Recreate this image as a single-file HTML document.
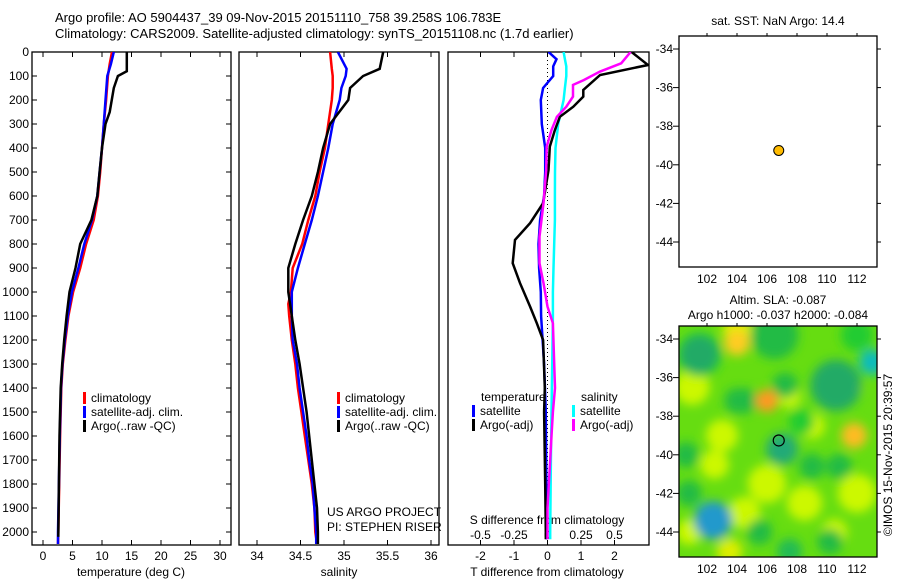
<!DOCTYPE html>
<html><head><meta charset="utf-8"><style>
html,body{margin:0;padding:0;background:#fff;}
svg{display:block;font-family:"Liberation Sans",sans-serif;}
text{fill:#000;}
</style></head><body>
<svg id="chart" width="900" height="580" viewBox="0 0 900 580" xmlns="http://www.w3.org/2000/svg">
<defs>
<clipPath id="c1"><rect x="32" y="52" width="199" height="493"/></clipPath>
<clipPath id="c2"><rect x="239" y="52" width="200" height="493"/></clipPath>
<clipPath id="c3"><rect x="448" y="52" width="201" height="493"/></clipPath>
<clipPath id="cm"><rect x="679" y="326" width="198" height="231"/></clipPath>
<filter id="blur" x="-20%" y="-20%" width="140%" height="140%"><feGaussianBlur stdDeviation="5"/></filter>
</defs>
<text x="55" y="22" font-size="13">Argo profile: AO 5904437_39 09-Nov-2015 20151110_758 39.258S 106.783E</text>
<text x="55" y="38" font-size="13">Climatology: CARS2009. Satellite-adjusted climatology: synTS_20151108.nc (1.7d earlier)</text>
<g id="layer"></g>
</svg>
<script>
// ---------- data ----------
const tDepth = [0,50,100,200,300,400,500,600,700,800,900,1000,1100,1200,1300,1400,1600,1800,2000,2050];
const tClim  = [11.7,11.3,11.0,10.7,10.3,10.0,9.7,9.3,8.6,7.3,6.3,5.1,4.3,3.8,3.35,3.1,2.9,2.75,2.6,2.55];
const tSat   = [12.0,11.5,10.9,10.6,10.3,10.0,9.6,9.2,8.3,7.0,6.0,4.9,4.2,3.7,3.3,3.05,2.85,2.7,2.55,2.55];
const argoTDepth = [0,80,100,150,250,300,400,500,600,700,800,900,1000,1100,1200,1300,1400,1600,1800,2020];
const tArgo  = [14.2,14.2,12.7,12.0,11.3,10.6,10.0,9.6,9.2,8.2,6.3,5.5,4.5,4.0,3.6,3.25,3.0,2.8,2.7,2.6];

const sDepth = [0,70,100,150,200,300,400,500,600,700,800,900,1000,1050,1100,1200,1300,1400,1500,1600,1700,1800,1900,2000,2050];
const sClim  = [34.84,34.86,34.87,34.87,34.86,34.82,34.78,34.72,34.67,34.59,34.52,34.41,34.39,34.36,34.37,34.40,34.44,34.47,34.51,34.55,34.59,34.63,34.66,34.67,34.69];
const sSat   = [34.93,35.03,35.02,34.97,34.95,34.87,34.82,34.76,34.70,34.63,34.55,34.47,34.40,34.40,34.40,34.41,34.46,34.49,34.53,34.57,34.60,34.64,34.66,34.68,34.68];
const sArgo  = [35.45,35.41,35.22,35.07,35.05,34.84,34.76,34.70,34.63,34.53,34.44,34.36,34.36,34.38,34.40,34.44,34.49,34.53,34.57,34.60,34.63,34.66,34.69,34.70,34.70];

const dDepth   = [0,30,60,100,150,200,300,400,500,600,700,800,900,1000,1100,1300,1500,1700,2000,2030];
const dTSat    = [0.03,0.27,0.17,0.17,-0.13,-0.2,-0.17,-0.07,-0.07,-0.1,-0.22,-0.27,-0.25,-0.2,-0.19,-0.1,-0.05,-0.04,-0.03,-0.03];
const dSSat    = [0.12,0.13,0.14,0.14,0.13,0.12,0.08,0.06,0.056,0.055,0.055,0.05,0.045,0.04,0.04,0.035,0.03,0.025,0.02,0.02];
const dArgoDepth = [0,54,96,158,186,228,270,325,394,492,630,713,783,880,963,1061,1130,1200,1400,1500,1800,2000,2030];
const dTArgo   = [2.51,3.0,1.57,1.07,1.07,0.77,0.37,0.22,0.07,0.03,-0.13,-0.52,-0.97,-1.04,-0.82,-0.52,-0.32,-0.13,-0.08,-0.1,-0.07,-0.05,-0.05];
const dSArgoDepth = [0,47,82,117,137,186,228,270,325,394,492,630,769,880,963,1061,1130,1400,1500,1600,1700,1900,2000,2030];
const dSArgo   = [0.62,0.55,0.39,0.27,0.19,0.19,0.14,0.07,0.03,-0.006,-0.01,-0.03,-0.06,-0.06,-0.03,0.0,0.04,0.056,0.04,0.03,0.02,0.0,0.0,0.0];

const depthTicks = [0,100,200,300,400,500,600,700,800,900,1000,1100,1200,1300,1400,1500,1600,1700,1800,1900,2000];
const tTicks = [0,5,10,15,20,25,30];
const sTicks = [34,34.5,35,35.5,36];
const sTickLabels = ["34","34.5","35","35.5","36"];
const dTTicks = [-2,-1,0,1,2];
const dSTicks = [-0.5,-0.25,0,0.25,0.5];
const dSTickLabels = ["-0.5","-0.25","0","0.25","0.5"];
const lonTicks = [102,104,106,108,110,112];
const latTicks = [-34,-36,-38,-40,-42,-44];
const argoLon = [106.783];
const argoLat = [-39.258];

// ---------- scales ----------
const yD = d => 52 + d*0.24;
const xT = t => 43 + t*5.9;
const xS = s => 257 + (s-34)*87;
const xDT = v => 547.5 + v*33.5;
const xDS = v => 547.5 + v*134;
const xLon = l => 707 + (l-102)*15;
const yLat1 = l => 49 + (-34-l)*19.3;
const yLat2 = l => 339 + (-34-l)*19.3;

const NS = "http://www.w3.org/2000/svg";
const layer = document.getElementById('layer');
function mk(tag, attrs, parent){
  const e = document.createElementNS(NS, tag);
  for (const k in attrs) e.setAttribute(k, attrs[k]);
  (parent||layer).appendChild(e);
  return e;
}
function txt(x,y,s,anchor,size){
  const t = mk('text',{x:x,y:y,'font-size':size||12,'text-anchor':anchor||'start'});
  t.textContent = s;
  return t;
}
function line(xs, ys, color, clip, w){
  const pts = xs.map((x,i)=>x.toFixed(1)+','+ys[i].toFixed(1)).join(' ');
  return mk('polyline',{points:pts,fill:'none',stroke:color,'stroke-width':w||2.5,'clip-path':'url(#'+clip+')','stroke-linejoin':'miter'});
}

// ---------- panel frames ----------
const panels = [[32,231,'temperature-panel'],[239,439,'salinity-panel'],[448,649,'difference-panel']];
panels.forEach(p=>{
  const r = mk('rect',{x:p[0],y:52,width:p[1]-p[0],height:493,fill:'none',stroke:'#000','stroke-width':1.3});
  
  
});

depthTicks.forEach(d=>{
  const y = yD(d);
  mk('line',{x1:32,x2:37,y1:y,y2:y,stroke:'#000'});
  mk('line',{x1:226,x2:231,y1:y,y2:y,stroke:'#000'});
  const t = txt(29,y+4,String(d),'end',12);
  
  
});

tTicks.forEach(v=>{
  const x = xT(v);
  mk('line',{x1:x,x2:x,y1:545,y2:540,stroke:'#000'});
  mk('line',{x1:x,x2:x,y1:52,y2:57,stroke:'#000'});
  const t = txt(x,560,String(v),'middle',12);
  
  
});
let at = txt(131,576,'temperature (deg C)','middle',12);



sTicks.forEach((v,i)=>{
  const x = xS(v);
  mk('line',{x1:x,x2:x,y1:545,y2:540,stroke:'#000'});
  mk('line',{x1:x,x2:x,y1:52,y2:57,stroke:'#000'});
  const t = txt(x,560,sTickLabels[i],'middle',12);
  
  
});
at = txt(339,576,'salinity','middle',12);



dTTicks.forEach(v=>{
  const x = xDT(v);
  mk('line',{x1:x,x2:x,y1:545,y2:540,stroke:'#000'});
  const t = txt(x,560,String(v),'middle',12);
  
  
});
dSTicks.forEach((v,i)=>{
  const x = xDS(v);
  mk('line',{x1:x,x2:x,y1:52,y2:57,stroke:'#000'});
  const t = txt(x,539,dSTickLabels[i],'middle',12);
  
  
});
at = txt(547,576,'T difference from climatology','middle',12);


at = txt(547,524,'S difference from climatology','middle',12);


const zl = mk('line',{x1:xDT(0),x2:xDT(0),y1:52,y2:545,stroke:'#000','stroke-dasharray':'1,3'});



// ---------- series ----------
let s;
s = line(tClim.map(xT), tDepth.map(yD), '#ff0000','c1');


s = line(tSat.map(xT), tDepth.map(yD), '#0000ff','c1');


s = line(tArgo.map(xT), argoTDepth.map(yD), '#000000','c1');



s = line(sClim.map(xS), sDepth.map(yD), '#ff0000','c2');


s = line(sSat.map(xS), sDepth.map(yD), '#0000ff','c2');


s = line(sArgo.map(xS), sDepth.map(yD), '#000000','c2');



s = line(dSSat.map(xDS), dDepth.map(yD), '#00ffff','c3');


s = line(dTSat.map(xDT), dDepth.map(yD), '#0000ff','c3');


s = line(dTArgo.map(xDT), dArgoDepth.map(yD), '#000000','c3');


s = line(dSArgo.map(xDS), dSArgoDepth.map(yD), '#ff00ff','c3');



// ---------- legends ----------
function legend(x,y,color,label,name){
  const g = mk('g',{});
  
  
  mk('rect',{x:x,y:y-10,width:3,height:12,fill:color},g);
  const t = mk('text',{x:x+8,y:y,'font-size':12},g);
  t.textContent = label;
}
legend(83,402,'#ff0000','climatology','legend-climatology');
legend(83,416,'#0000ff','satellite-adj. clim.','legend-satellite-adj');
legend(83,430,'#000000','Argo(..raw -QC)','legend-argo');
legend(337,402,'#ff0000','climatology','legend-climatology-salinity');
legend(337,416,'#0000ff','satellite-adj. clim.','legend-satellite-adj-salinity');
legend(337,430,'#000000','Argo(..raw -QC)','legend-argo-salinity');
at = txt(481,401,'temperature','start',12);


at = txt(581,401,'salinity','start',12);


legend(472,415,'#0000ff','satellite','legend-t-satellite');
legend(472,429,'#000000','Argo(-adj)','legend-t-argo');
legend(572,415,'#00ffff','satellite','legend-s-satellite');
legend(572,429,'#ff00ff','Argo(-adj)','legend-s-argo');
at = txt(327,516,'US ARGO PROJECT','start',12);


at = txt(327,531,'PI: STEPHEN RISER','start',12);



// ---------- maps ----------
const hb = mk('rect',{x:679,y:326,width:198,height:231,fill:'#66dd11'});


const blobs = mk('g',{'clip-path':'url(#cm)'});
const blobG = mk('g',{filter:'url(#blur)'},blobs);
const blobLon = [101,103,106,104.5,108.5,112,104,102.5,109,111.5,100.8,103.5,107.5,110.5,101.5,104.5,108.3,112,101.5,106.5,110.6,113,107,102.4,104,107.2,109,110.8,100.6,105.5,107.5,110.2,106,111.8,104,100.8];
const blobLat = [-36.5,-39,-41.5,-43,-42.5,-42,-33.5,-40.5,-38.5,-36.5,-44,-45,-37,-44,-34.8,-37.2,-38.3,-33.8,-34.8,-33.8,-36.4,-35.2,-39.7,-43.4,-37.2,-36.4,-40.6,-40.6,-40,-44,-45,-44.5,-37.2,-39,-34.2,-42];
const blobR   = [1.1,1.0,1.2,1.0,1.1,1.2,0.9,0.9,0.8,0.8,0.8,0.8,0.7,0.8,1.4,0.8,0.8,1.0,1.2,1.5,1.6,0.8,1.0,1.2,0.8,0.8,0.8,0.8,0.8,0.8,0.8,0.8,0.7,0.8,0.8,0.8];
const blobC   = ['#ccf800','#ccf800','#ccf800','#ccf800','#ccf800','#ccf800','#ddee00','#ccf800','#ccf800','#ccf800','#ccf800','#ddee00','#ccf800','#ccf800','#22cc33','#22bb44','#22cc33','#22cc33','#22aa66','#22bb44','#22aa66','#11bbbb','#22aa77','#2299cc','#22bb44','#22bb44','#22bb44','#22bb44','#22bb44','#22bb44','#22bb55','#22bb44','#ff9922','#ffbb22','#ffcc22','#22bb44'];
blobLon.forEach((l,i)=>{
  mk('circle',{cx:xLon(l),cy:yLat2(blobLat[i]),r:blobR[i]*16,fill:blobC[i]},blobG);
});
[[679,326],[679,36]].forEach((o,k)=>{
  const r = mk('rect',{x:679,y:o[1],width:198,height:231,fill:'none',stroke:'#000','stroke-width':1.3});
  
  
});
[yLat1,yLat2].forEach((yf,k)=>{
  const top = k===0?36:326, bot = k===0?267:557;
  latTicks.forEach(l=>{
    const y = yf(l);
    mk('line',{x1:673,x2:679,y1:y,y2:y,stroke:'#000'});
    mk('line',{x1:877,x2:881,y1:y,y2:y,stroke:'#000'});
    const t = txt(673,y+4,String(l),'end',12);
    
    
  });
  lonTicks.forEach(l=>{
    const x = xLon(l);
    mk('line',{x1:x,x2:x,y1:top-3,y2:top,stroke:'#000'});
    const t = txt(x,bot+16,String(l),'middle',12);
    
    
  });
});
argoLon.forEach((l,i)=>{
  const c = mk('circle',{cx:xLon(l),cy:yLat1(argoLat[i]),r:5,fill:'#ffbb00',stroke:'#000','stroke-width':1});
  
  
  const c2 = mk('circle',{cx:xLon(l),cy:yLat2(argoLat[i]),r:5.5,fill:'none',stroke:'#000','stroke-width':1.2});
  
  
});
at = txt(778,25,'sat. SST: NaN Argo: 14.4','middle',12);


at = txt(778,304,'Altim. SLA: -0.087','middle',12);


at = txt(778,319,'Argo h1000: -0.037 h2000: -0.084','middle',12);


at = mk('text',{x:0,y:0,'font-size':12,'text-anchor':'middle',transform:'translate(892,455) rotate(-90)'});
at.textContent = '©IMOS 15-Nov-2015 20:39:57';


</script>
</body></html>
